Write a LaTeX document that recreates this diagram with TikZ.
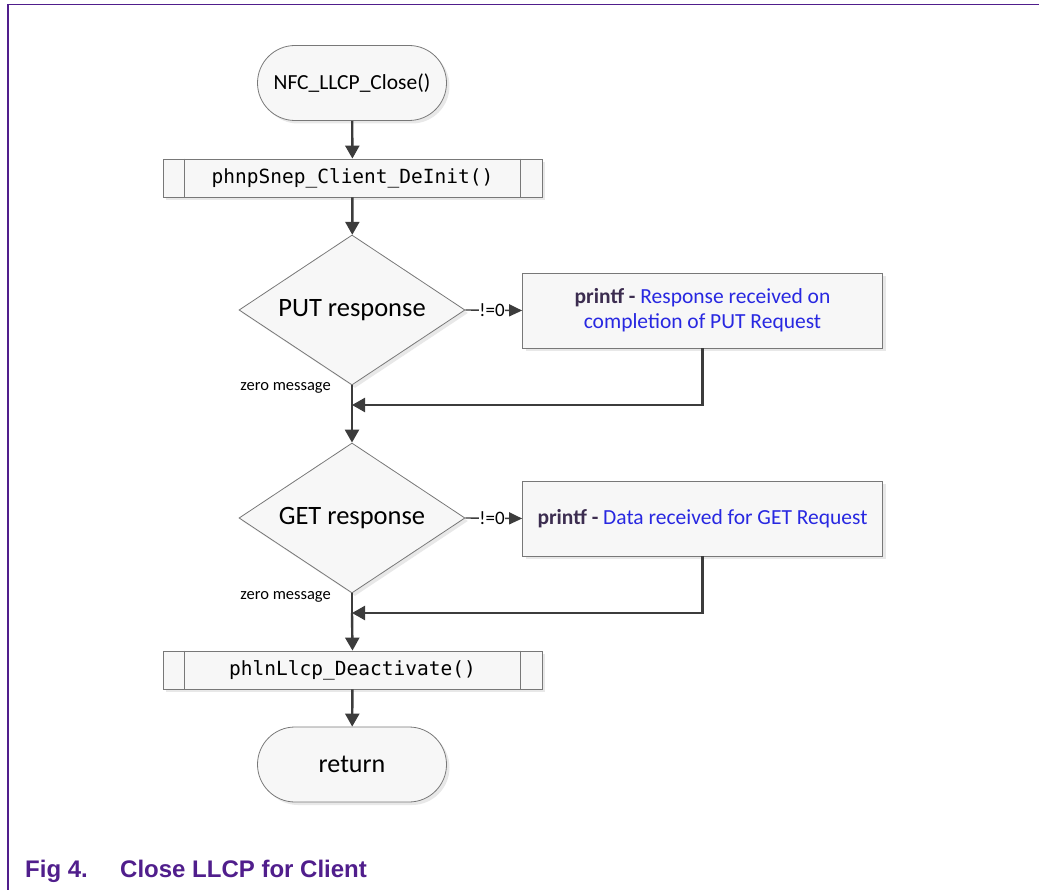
\documentclass[tikz,border=0pt]{standalone}
\usepackage{fontspec}
\setmainfont{Carlito}
\newfontfamily\codefont{DejaVu Sans Mono}
\newfontfamily\capfont{Liberation Sans}
\usetikzlibrary{shapes.geometric,shapes.misc,arrows.meta,shadows}
\definecolor{framepurple}{RGB}{80,30,140}
\definecolor{shapeline}{RGB}{120,120,120}
\definecolor{shapefill}{RGB}{247,247,247}
\definecolor{linegray}{RGB}{60,60,60}
\definecolor{printblue}{RGB}{40,40,225}
\definecolor{printdark}{RGB}{60,45,80}
\tikzset{
  shp/.style={draw=shapeline, line width=0.8pt, fill=shapefill,
    drop shadow={opacity=0.18, shadow xshift=3pt, shadow yshift=-3pt}},
  term/.style={shp, rounded rectangle, minimum width=189pt, minimum height=75pt, inner sep=0pt, font=\fontsize{21.5}{24}\selectfont},
  subr/.style={shp, rectangle, minimum width=379pt, minimum height=38pt, inner sep=0pt, font=\codefont\fontsize{19.5}{22}\selectfont},
  decis/.style={shp, diamond, aspect=1.507, minimum width=226pt, minimum height=150pt, inner sep=0pt, font=\fontsize{26.5}{30}\selectfont},
  prbox/.style={shp, rectangle, minimum width=360pt, minimum height=75pt, inner sep=0pt, align=center, font=\fontsize{21.5}{25}\selectfont},
  flow/.style={draw=linegray, line width=2.4pt, -{Triangle[length=13pt,width=14pt]}},
  branch/.style={draw=linegray, line width=1.4pt, -{Triangle[length=13pt,width=12pt]}},
  lbl/.style={font=\fontsize{16.5}{19}\selectfont, text=black, inner sep=0pt},
  neq/.style={font=\fontsize{19}{21}\selectfont, fill=white, inner sep=0.5pt},
  caption/.style={font=\capfont\bfseries\fontsize{24}{28}\selectfont, text=framepurple, inner sep=0pt, anchor=base west}
}
\newcommand{\pf}{\textcolor{printdark}{\bfseries printf -}}
\begin{document}
\begin{tikzpicture}[x=1pt,y=-1pt]
\useasboundingbox (0,0) rectangle (1039,890);
% frame
\draw[framepurple, line width=1.2pt] (8,890) -- (8,4.5) -- (1039,4.5);
% nodes
\node[term] (start) at (352,83) {NFC\_LLCP\_Close()};
\node[subr] (s1) at (352.5,178) {phnpSnep\_Client\_DeInit()};
\node[decis] (put) at (352,310) {PUT response};
\node[prbox] (p1) at (702.5,310.5) {\pf\ \textcolor{printblue}{Response received on}\\\textcolor{printblue}{completion of PUT Request}};
\node[decis] (get) at (352,518) {GET response};
\node[prbox] (p2) at (702.5,518.5) {\pf\ \textcolor{printblue}{Data received for GET Request}};
\node[subr] (s2) at (352.5,670) {phlnLlcp\_Deactivate()};
\node[term, font=\fontsize{26}{30}\selectfont] (ret) at (352,764.5) {return};
% subroutine side bars
\foreach \n in {s1,s2}{
  \draw[shapeline, line width=0.8pt] ([xshift=22pt]\n.north west) -- ([xshift=22pt]\n.south west);
  \draw[shapeline, line width=0.8pt] ([xshift=-22pt]\n.north east) -- ([xshift=-22pt]\n.south east);
}
% junction coordinates
\coordinate (j1) at (352,405);
\coordinate (j2) at (352,613);
% connectors
\draw[flow] (start) -- (s1);
\draw[flow] (s1) -- (put);
\draw[branch] (put.east) -- node[neq, pos=0.47] (n1) {!=0} (p1.west);
\draw[flow, -] (put.south) -- (j1);
\draw[flow] (j1) -- (get.north);
\draw[flow] (p1.south) |- (j1);
\node[lbl, anchor=base east] (z1) at (331,391) {zero message};
\draw[branch] (get.east) -- node[neq, pos=0.47] (n2) {!=0} (p2.west);
\draw[flow, -] (get.south) -- (j2);
\draw[flow] (j2) -- (s2.north);
\draw[flow] (p2.south) |- (j2);
\node[lbl, anchor=base east] (z2) at (331,599) {zero message};
\draw[flow] (s2) -- (ret);
% caption
\node[caption] (fig) at (25,877) {Fig 4.};
\node[caption] (cap) at (120,877) {Close LLCP for Client};
\end{tikzpicture}
\end{document}
